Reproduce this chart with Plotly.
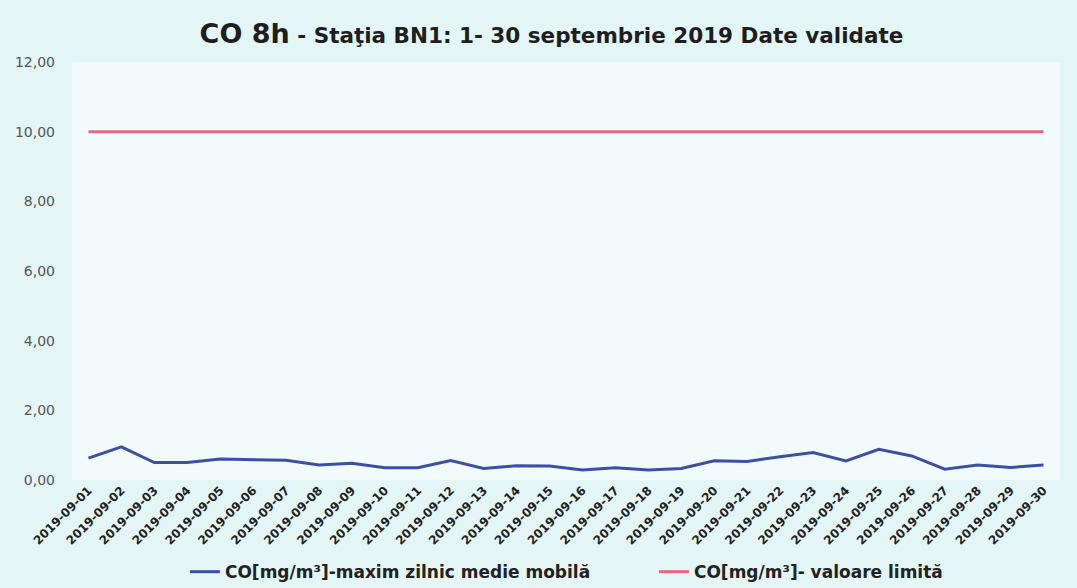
import plotly.graph_objects as go

# Datele: 1-30 septembrie 2019
dates = [f"2019-09-{d:02d}" for d in range(1, 31)]
co_max_8h = [0.63, 0.95, 0.50, 0.50, 0.60, 0.58, 0.57, 0.43, 0.48, 0.35,
             0.35, 0.56, 0.33, 0.41, 0.40, 0.29, 0.35, 0.29, 0.33, 0.55,
             0.53, 0.67, 0.79, 0.55, 0.88, 0.69, 0.31, 0.43, 0.36, 0.43]
co_limit = [10.0] * 30
y_ticks = [0, 2, 4, 6, 8, 10, 12]

fig = go.Figure()
fig.add_trace(go.Scatter(x          = dates,
                         y          = co_max_8h,
                         mode       = "lines",
                         name       = "CO[mg/m³]-maxim zilnic medie mobilă",
                         line       = dict(color = "#3d4fa3", width = 3)))
fig.add_trace(go.Scatter(x          = dates,
                         y          = co_limit,
                         mode       = "lines",
                         name       = "CO[mg/m³]- valoare limită",
                         line       = dict(color = "#e9667f", width = 3)))

fig.update_layout(
    width         = 1077,
    height        = 588,
    paper_bgcolor = "#e3f5f5",
    plot_bgcolor  = "#f2fbfb",
    separators    = ",.",
    margin        = dict(l = 72, r = 17, t = 62, b = 108, autoexpand = False),
    title         = dict(text    = "<b><span style='font-size:27px'>CO 8h</span> - Staţia BN1: 1- 30 septembrie 2019 Date validate</b>",
                         x       = 0.512,
                         xanchor = "center",
                         y       = 0.94,
                         yanchor = "middle",
                         font    = dict(family = "DejaVu Sans", size = 21.5, color = "#1e1e1e")),
    font          = dict(family = "DejaVu Sans", color = "#333333"),
    legend        = dict(orientation = "h",
                         x           = 0.589,
                         xanchor     = "center",
                         yref        = "container",
                         y           = 0.027,
                         yanchor     = "middle",
                         font        = dict(size = 17, color = "#222222", weight = "bold"),
                         itemwidth   = 30,
                         entrywidth  = 424,
                         bgcolor     = "rgba(0,0,0,0)"),
    xaxis         = dict(type      = "category",
                         range     = [-0.5, 29.5],
                         tickangle = -45,
                         automargin = False,
                         tickfont  = dict(size = 12, color = "#222222", weight = "bold"),
                         showgrid  = False,
                         showline  = False,
                         zeroline  = False),
    yaxis         = dict(range      = [0, 12],
                         tickvals   = y_ticks,
                         tickformat = ".2f",
                         automargin = False,
                         tickfont   = dict(size = 14, color = "#555555"),
                         showgrid   = False,
                         zeroline   = False,
                         ticks      = "",
                         ticklabelstandoff = 16),
)

fig.write_html("out.html",
               config      = {"displayModeBar": False},
               post_script = "document.body.style.margin = '0';")
